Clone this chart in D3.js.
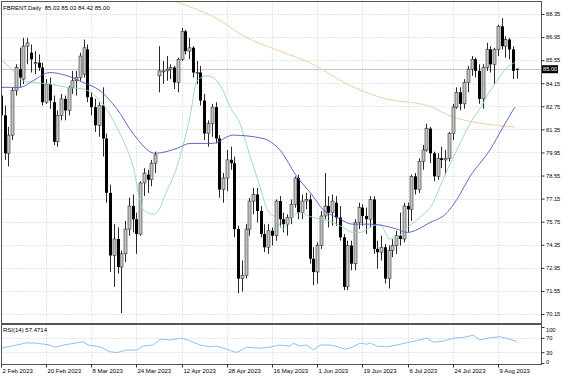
<!DOCTYPE html>
<html>
<head>
<meta charset="utf-8">
<script src="https://cdn.jsdelivr.net/npm/d3@7/dist/d3.min.js"></script>
<style>
  html, body { margin: 0; padding: 0; background: #fff; }
  svg { display: block; font-family: "Liberation Sans", Tahoma, sans-serif; }
</style>
</head>
<body>
<div id="chart"></div>
<script>
// ---- data, one bar per trading day, bar 0 = 2 Feb 2023 ----
const opens  = [83.4,82.2,79.9,81.0,83.7,85.0,84.4,86.4,86.0,85.4,85.4,85.1,83.0,84.1,83.0,80.6,82.2,83.2,82.5,83.9,
                84.3,84.5,84.7,86.2,83.3,82.7,81.6,82.8,80.8,77.5,73.7,74.7,73.0,73.8,75.3,76.7,75.9,75.0,78.1,78.6,
                78.3,79.3,84.6,84.9,84.9,85.0,85.1,84.2,85.6,87.3,86.1,86.3,84.8,84.8,83.1,81.1,81.7,82.7,80.8,77.7,
                78.4,79.5,79.3,75.3,72.3,72.5,75.3,77.0,77.4,76.4,75.0,74.2,75.2,74.9,77.0,75.9,75.6,76.0,76.8,78.4,
                76.3,77.0,77.1,73.5,72.7,74.3,76.1,76.7,76.3,76.9,76.0,74.8,71.8,74.3,73.2,75.7,76.6,76.1,75.9,77.1,
                74.1,73.9,74.2,72.3,74.0,74.3,74.9,74.7,76.7,76.5,78.5,77.7,79.4,80.1,81.4,79.9,78.5,79.6,79.5,79.6,
                81.1,82.7,83.6,82.9,84.2,85.0,85.6,84.9,83.2,85.1,86.2,85.3,86.2,87.6,86.4,86.8,86.2,85.03];
const highs  = [83.6,82.8,81.5,83.9,85.3,86.3,86.9,86.9,86.5,86.1,85.9,85.4,84.4,84.5,83.4,82.5,83.5,83.4,84.0,84.9,
                84.9,86.0,86.8,86.5,83.6,83.2,83.0,83.9,81.1,78.0,75.6,75.4,74.0,75.8,77.2,77.4,76.3,78.2,79.0,78.9,
                79.5,80.0,86.4,85.5,85.8,85.3,85.2,85.7,87.5,87.4,86.9,86.4,85.5,85.2,83.5,81.9,82.9,83.0,81.0,78.7,
                80.1,80.3,79.7,75.5,73.4,75.6,77.2,77.8,77.8,76.7,75.6,75.6,75.4,77.1,77.3,76.3,76.2,77.1,78.5,78.6,
                77.4,77.5,77.4,74.2,74.5,76.4,78.7,77.3,77.4,77.3,76.7,75.0,74.6,74.6,75.9,76.9,76.8,76.6,77.3,77.3,
                74.6,74.9,74.4,74.3,74.7,75.2,76.3,76.9,76.9,78.6,78.7,79.6,80.4,81.7,81.5,80.0,79.9,80.3,80.1,81.2,
                82.9,83.9,83.9,84.4,85.2,85.8,85.7,85.3,85.3,86.6,86.4,86.3,87.7,88.1,87.0,86.9,86.4,85.03];
const lows   = [81.9,79.5,79.1,80.7,83.4,83.9,84.1,85.3,84.8,84.7,84.9,82.8,82.9,82.6,80.4,80.3,81.9,81.9,82.2,83.5,
                83.4,84.3,84.5,83.0,82.2,81.2,80.9,79.7,76.9,72.7,71.8,72.6,70.2,73.3,74.9,75.1,73.8,74.9,77.3,77.5,
                77.9,78.7,83.6,84.1,84.3,84.4,83.8,83.6,85.5,85.9,85.6,84.5,84.1,82.8,80.7,80.3,80.9,80.5,77.2,76.9,
                77.6,78.9,74.8,71.4,71.5,72.3,74.9,76.2,75.7,74.8,73.9,73.8,74.3,74.6,75.4,75.1,74.9,75.6,76.6,75.9,
                75.9,76.5,73.2,71.9,72.0,74.1,75.9,75.4,75.5,75.5,74.6,71.6,71.6,72.8,72.8,75.3,75.5,75.0,75.4,73.8,
                72.9,73.4,72.0,71.7,73.6,73.8,74.3,74.5,75.1,75.8,77.4,77.5,78.9,80.0,79.3,78.2,78.3,79.0,78.6,79.4,
                80.7,82.6,82.5,82.6,83.6,84.6,84.5,82.9,82.6,84.9,84.8,84.1,85.8,86.2,85.7,85.6,84.4,84.42];
const closes = [82.2,79.9,81.0,83.7,85.1,84.5,86.4,86.6,85.6,85.4,85.1,83.0,84.1,83.1,80.6,82.2,83.2,82.5,83.9,84.3,
                84.5,85.8,86.3,83.3,82.7,81.6,82.8,80.8,77.5,73.7,74.7,73.0,73.8,75.3,76.7,75.9,75.0,78.1,78.7,78.3,
                79.3,79.8,84.9,84.9,85.0,85.1,84.2,85.6,87.3,86.1,86.3,84.8,84.8,83.1,81.1,81.7,82.7,80.8,77.7,78.4,
                79.5,79.3,75.3,72.3,72.5,75.3,77.0,77.4,76.4,75.0,74.2,75.2,74.9,77.0,75.9,75.6,76.0,76.8,78.4,76.3,
                77.0,77.1,73.5,72.7,74.3,76.1,76.7,76.3,77.0,76.0,74.8,71.8,74.3,73.2,75.7,76.6,76.1,75.9,77.1,74.1,
                73.9,74.2,72.3,74.0,74.3,74.9,74.7,76.7,76.5,78.5,77.7,79.4,80.1,81.4,79.9,78.5,79.6,79.5,79.6,81.1,
                82.7,83.6,82.9,84.2,85.0,85.6,84.9,83.2,85.1,86.2,85.3,86.2,87.6,86.4,86.8,86.2,84.9,85.00];

// moving averages, [bar, price] points
const maFast = [[0,85.6],[2.4,85.1],[5.9,84.3],[8.5,84.2],[13,84.1],[17.6,83.9],[21.8,83.8],[26.3,83.1],[31.6,81.1],
                [35.1,79.1],[37.7,76.5],[40.4,76.2],[42.3,76.6],[43.1,77.1],[46.8,79.1],[50.2,82.1],[52.1,84.3],
                [54.7,84.6],[56.3,84.5],[59,83.7],[60.9,82.7],[63.5,81.7],[66.2,79.7],[68.8,77.9],[70.7,76.5],
                [73.3,75.9],[74.9,75.3],[76.8,75.9],[79.4,76.3],[82.9,76.0],[85.5,75.9],[88.2,75.7],[90.9,75.4],
                [93.5,75.1],[95.4,75.1],[98,75.4],[100.7,75.6],[103.3,74.7],[105.2,74.8],[107.9,75.4],[111.3,76.0],
                [114.8,76.9],[117.4,78.3],[121.1,80.1],[124.6,81.7],[128,82.9],[129.9,83.7],[131.8,84.3],[134.4,85.1],[136.5,85.4]];
const maMid  = [[0,83.9],[5.1,83.9],[8.5,84.3],[13,84.8],[17.6,84.6],[21.8,84.2],[26.3,83.7],[30.8,82.6],[35.1,81.1],
                [40.9,79.9],[46.8,80.2],[50.2,80.5],[56.3,80.5],[61.6,81.0],[69.6,80.8],[74.1,80.1],[78.6,78.5],
                [82.9,77.3],[85.5,76.5],[89.3,76.0],[93.5,75.6],[98,75.6],[105.2,75.3],[107.9,75.1],[114,75.7],
                [118.5,76.3],[121.1,77.1],[124.6,78.5],[129.9,80.1],[133.4,81.5],[136.5,82.7]];
const maSlow = [[44,89.3],[47.6,89.0],[56.3,88.2],[65.4,86.9],[74.1,86.1],[82.9,85.3],[91.9,84.1],[100.7,83.3],
                [114.5,82.7],[120.1,82.1],[136.5,81.5]];

// RSI(14), [bar, value] points
const rsiPts = [[0,41],[4.2,50],[6.9,56],[9.5,55],[13,50],[14.4,44],[16.6,50],[20.1,56],[21.9,59],[23.2,50],
                [26.3,45],[29,31],[30.8,29],[33.4,36],[36.1,36],[37.8,47],[40.5,50],[42.3,66],[44.9,64],[48,69],
                [50.2,62],[52.9,50],[55.5,45],[57.3,47],[60,38],[62.6,29],[65.3,44],[68.8,41],[71.5,44],[74.1,50],
                [76.8,47],[77.7,55],[79.4,47],[81.2,50],[83,36],[84.8,50],[87.4,50],[89.6,45],[91.4,38],[93.6,45],
                [95.4,55],[97.2,52],[98,56],[99.8,47],[102.5,45],[105.1,50],[107.8,56],[110.4,62],[113.1,69],
                [114.9,58],[117.5,61],[120.2,69],[122.8,71],[125.5,77],[127.2,64],[129.9,70],[132.6,73],[135.2,66],
                [136.6,61],[137,57.5]];

const dateTicks  = [[0,'2 Feb 2023'],[12,'20 Feb 2023'],[24,'8 Mar 2023'],[36,'24 Mar 2023'],[48,'12 Apr 2023'],
                    [60,'28 Apr 2023'],[72,'16 May 2023'],[84,'1 Jun 2023'],[96,'19 Jun 2023'],[108,'6 Jul 2023'],
                    [120,'24 Jul 2023'],[132,'9 Aug 2023']];
const priceTicks = [70.15,71.55,72.95,74.35,75.75,77.15,78.55,79.95,81.35,82.75,84.15,85.55,86.95,88.35];
const rsiTicks   = [100,70,30,0];
const rsiLevels  = [70,30];
const lastPrice  = 85.00;
const titleText  = 'FBRENT,Daily  85.03 85.03 84.42 85.00';
const rsiText    = 'RSI(14) 57.4714';

// ---- layout ----
const W = 564, H = 376;
const MAIN = { left: 1.5, right: 541.5, top: 1.5, bottom: 323.5 };
const SUB  = { top: 324.5, bottom: 364.5 };
const GRID = '#cdcdcd';
const FONT = 6;
const AXFONT = 5.7;

const x  = d3.scaleLinear().domain([0, 137]).range([0.9, 516.7]);
const y  = d3.scaleLinear().domain([70.15, 88.35]).range([314, 14]);
const yr = d3.scaleLinear().domain([0, 100]).range([363, 327]);
const px = v => Math.round(x(v)) + 0.5;

const svg = d3.select('#chart').append('svg')
  .attr('width', W).attr('height', H)
  .attr('viewBox', `0 0 ${W} ${H}`);

svg.append('rect').attr('width', W).attr('height', H).attr('fill', '#fff');

const defs = svg.append('defs');
defs.append('clipPath').attr('id', 'clip-main').append('rect')
  .attr('x', MAIN.left).attr('y', MAIN.top)
  .attr('width', MAIN.right - MAIN.left).attr('height', MAIN.bottom - MAIN.top);
defs.append('clipPath').attr('id', 'clip-sub').append('rect')
  .attr('x', MAIN.left).attr('y', SUB.top)
  .attr('width', MAIN.right - MAIN.left).attr('height', SUB.bottom - SUB.top);

// ---- grid ----
const grid = svg.append('g').attr('stroke', GRID).attr('stroke-dasharray', '1,2').attr('stroke-width', 1);
grid.selectAll('.hgrid').data(priceTicks).join('line')
  .attr('x1', MAIN.left).attr('x2', MAIN.right)
  .attr('y1', d => Math.round(y(d)) + 0.5).attr('y2', d => Math.round(y(d)) + 0.5);
grid.selectAll('.vgrid').data(dateTicks.slice(1)).join('line')
  .attr('x1', d => px(d[0])).attr('x2', d => px(d[0]))
  .attr('y1', MAIN.top).attr('y2', MAIN.bottom);
grid.selectAll('.vgrid2').data(dateTicks.slice(1)).join('line')
  .attr('x1', d => px(d[0])).attr('x2', d => px(d[0]))
  .attr('y1', SUB.top).attr('y2', SUB.bottom);
grid.selectAll('.rgrid').data(rsiLevels).join('line')
  .attr('x1', MAIN.left).attr('x2', MAIN.right)
  .attr('y1', d => Math.round(yr(d)) + 0.5).attr('y2', d => Math.round(yr(d)) + 0.5);

// ---- main panel ----
const main = svg.append('g').attr('clip-path', 'url(#clip-main)');

// bid line
main.append('line')
  .attr('x1', MAIN.left).attr('x2', MAIN.right)
  .attr('y1', Math.round(y(lastPrice)) + 0.5).attr('y2', Math.round(y(lastPrice)) + 0.5)
  .attr('stroke', '#c8c8c8').attr('stroke-width', 1);

const maLine = d3.line().x(d => x(d[0])).y(d => y(d[1])).curve(d3.curveMonotoneX);
main.append('path').attr('d', maLine(maSlow)).attr('fill', 'none').attr('stroke', '#f0c79c').attr('stroke-width', 0.9);

const bars = d3.range(closes.length);
const candles = main.append('g');
candles.selectAll('.wick').data(bars).join('line')
  .attr('x1', i => px(i)).attr('x2', i => px(i))
  .attr('y1', i => y(highs[i])).attr('y2', i => y(lows[i]))
  .attr('stroke', '#111').attr('stroke-width', 0.9);
candles.selectAll('.body').data(bars).join('rect')
  .attr('x', i => Math.round(x(i)) - 1)
  .attr('width', 3)
  .attr('y', i => y(Math.max(opens[i], closes[i])))
  .attr('height', i => Math.max(1, Math.abs(y(opens[i]) - y(closes[i]))))
  .attr('fill', i => closes[i] >= opens[i] ? '#c4c4c4' : '#000')
  .attr('stroke', i => closes[i] >= opens[i] ? '#333' : 'none')
  .attr('stroke-width', 0.6);

main.append('path').attr('d', maLine(maFast)).attr('fill', 'none').attr('stroke', '#93d5c0').attr('stroke-width', 0.9);
main.append('path').attr('d', maLine(maMid)).attr('fill', 'none').attr('stroke', '#5656c8').attr('stroke-width', 0.9);

// ---- RSI panel ----
const sub = svg.append('g').attr('clip-path', 'url(#clip-sub)');
const rsiLine = d3.line().x(d => x(d[0])).y(d => yr(d[1]));
sub.append('path').attr('d', rsiLine(rsiPts)).attr('fill', 'none').attr('stroke', '#8cc1ee').attr('stroke-width', 1);

// ---- frames ----
const frame = svg.append('g').attr('fill', 'none');
frame.append('rect').attr('x', MAIN.left).attr('y', MAIN.top)
  .attr('width', MAIN.right - MAIN.left).attr('height', MAIN.bottom - MAIN.top).attr('stroke', '#555');
frame.append('rect').attr('x', MAIN.left).attr('y', SUB.top)
  .attr('width', MAIN.right - MAIN.left).attr('height', SUB.bottom - SUB.top).attr('stroke', '#555');

// ---- axes ----
const yAxis = svg.append('g')
  .attr('transform', `translate(${MAIN.right},0)`)
  .call(d3.axisRight(y).tickValues(priceTicks).tickFormat(d3.format('.2f')).tickSize(3).tickPadding(1.5))
  .call(g => g.select('.domain').remove());
yAxis.selectAll('text').attr('font-size', AXFONT).attr('fill', '#000').attr('font-family', 'inherit');
yAxis.selectAll('line').attr('stroke', '#333');

const rAxis = svg.append('g')
  .attr('transform', `translate(${MAIN.right},0)`)
  .call(d3.axisRight(yr).tickValues(rsiTicks).tickSize(3).tickPadding(1.5))
  .call(g => g.select('.domain').remove());
rAxis.selectAll('text').attr('font-size', AXFONT).attr('fill', '#000').attr('font-family', 'inherit')
  .attr('dy', d => d === 100 ? '0.75em' : d === 0 ? '0.05em' : '0.32em');
rAxis.selectAll('line').attr('stroke', '#333');

const xAxis = svg.append('g')
  .attr('transform', `translate(0,${SUB.bottom})`)
  .call(d3.axisBottom(x).tickValues(dateTicks.map(d => d[0]))
    .tickFormat((d, k) => dateTicks[k][1]).tickSize(3).tickPadding(2))
  .call(g => g.select('.domain').remove());
xAxis.selectAll('.tick').attr('transform', d => `translate(${px(d)},0)`);
xAxis.selectAll('text').attr('font-size', FONT).attr('fill', '#000').attr('font-family', 'inherit')
  .attr('text-anchor', 'start').attr('x', 1).attr('y', 4.5).attr('dy', '0.71em');
xAxis.selectAll('line').attr('stroke', '#333');

// current price tag
const tagY = y(lastPrice);
svg.append('rect').attr('x', 542).attr('y', tagY - 4).attr('width', 16).attr('height', 8).attr('fill', '#000');
svg.append('text').attr('x', 543).attr('y', tagY).attr('dy', '0.35em')
  .attr('font-size', AXFONT).attr('fill', '#fff').text(d3.format('.2f')(lastPrice));

// ---- titles ----
svg.append('text').attr('x', 3).attr('y', 10).attr('font-size', FONT).attr('fill', '#000')
  .style('white-space', 'pre').text(titleText);
svg.append('text').attr('x', 3).attr('y', 332).attr('font-size', FONT).attr('fill', '#000').text(rsiText);
</script>
</body>
</html>
